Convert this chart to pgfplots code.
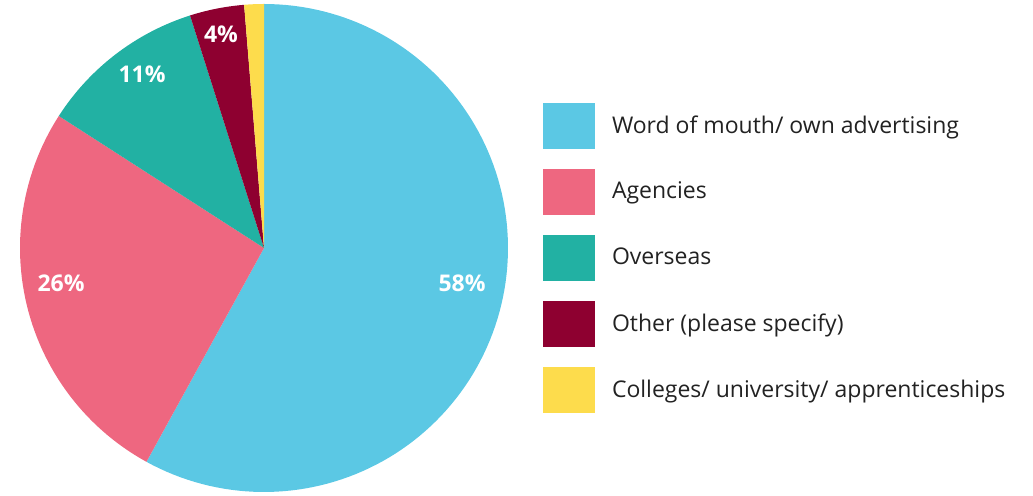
\documentclass[border=0pt]{standalone}
\usepackage{fontspec}
\setmainfont{Open Sans}
\usepackage{pgfplots}
\pgfplotsset{compat=1.18}
\definecolor{cBlue}{HTML}{5BC8E4}
\definecolor{cPink}{HTML}{EE6780}
\definecolor{cTeal}{HTML}{22B1A3}
\definecolor{cRed}{HTML}{8E0030}
\definecolor{cYel}{HTML}{FDDC4C}
\definecolor{cText}{HTML}{222222}
% shares in percent
\def\vA{58}\def\vB{26.1}\def\vC{11}\def\vD{3.6}\def\vE{1.3}
\begin{document}
\begin{tikzpicture}
\pgfmathsetmacro\aO{90}
\pgfmathsetmacro\aA{\aO-3.6*\vA}
\pgfmathsetmacro\aB{\aA-3.6*\vB}
\pgfmathsetmacro\aC{\aB-3.6*\vC}
\pgfmathsetmacro\aD{\aC-3.6*\vD}
\pgfmathsetmacro\aE{\aD-3.6*\vE}
\begin{axis}[
  width=516.5pt, height=248pt, scale only axis,
  xmin=0, xmax=1033, ymin=0, ymax=496,
  axis line style={draw=none}, ticks=none,
  clip=false,
  legend style={at={(axis cs:543,393)}, anchor=north west, draw=none, fill=none,
    inner sep=0pt, outer sep=0pt, row sep=10pt, font=\fontsize{11.5}{13}\selectfont\color{cText},
    nodes={inner sep=0pt, anchor=west}},
  legend cell align=left,
  legend image code/.code={\fill[#1] (0pt,-11.5pt) rectangle (26pt,11.5pt);},
  /tikz/every odd column/.append style={column sep=8.5pt},
]
\addplot[fill=cBlue, draw=none, domain=\aA:\aO, samples=120, variable=\t]
  ({264+244*cos(\t)},{248+244*sin(\t)}) -- (264,248) -- cycle;
\addplot[fill=cPink, draw=none, domain=\aB:\aA, samples=60, variable=\t]
  ({264+244*cos(\t)},{248+244*sin(\t)}) -- (264,248) -- cycle;
\addplot[fill=cTeal, draw=none, domain=\aC:\aB, samples=30, variable=\t]
  ({264+244*cos(\t)},{248+244*sin(\t)}) -- (264,248) -- cycle;
\addplot[fill=cRed, draw=none, domain=\aD:\aC, samples=15, variable=\t]
  ({264+244*cos(\t)},{248+244*sin(\t)}) -- (264,248) -- cycle;
\addplot[fill=cYel, draw=none, domain=\aE:\aD, samples=8, variable=\t]
  ({264+244*cos(\t)},{248+244*sin(\t)}) -- (264,248) -- cycle;
\legend{Word of mouth/ own advertising, Agencies, Overseas, Other (please specify), Colleges/ university/ apprenticeships}
\begin{scope}[every node/.style={text=white, font=\fontsize{11.5}{13}\bfseries\selectfont}]
\node at (axis cs:462,213) {58\%};
\node at (axis cs:61,213) {26\%};
\node at (axis cs:142,422) {11\%};
\node at (axis cs:221,462) {4\%};
\end{scope}
\end{axis}
\end{tikzpicture}
\end{document}
